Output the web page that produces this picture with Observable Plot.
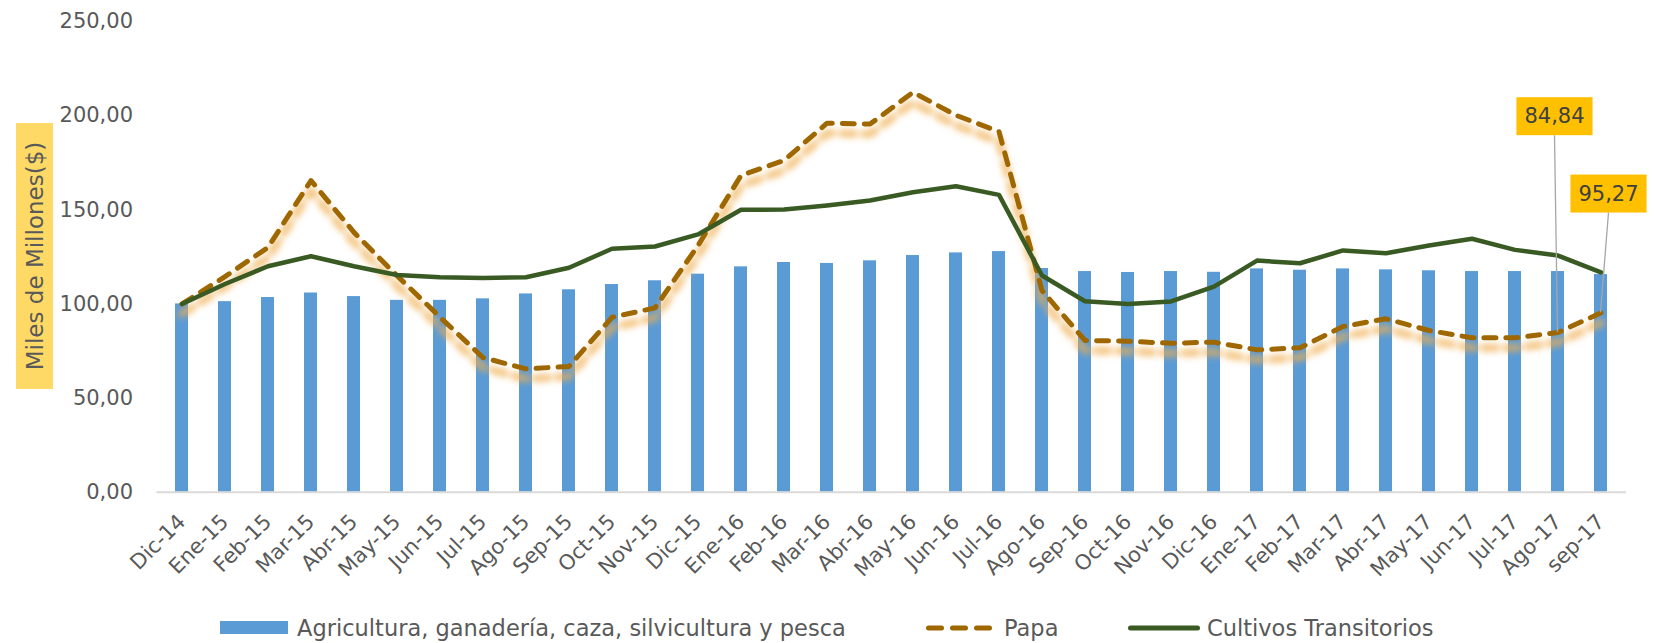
<!DOCTYPE html>
<html>
<head>
<meta charset="utf-8">
<script src="https://cdn.jsdelivr.net/npm/d3@7"></script>
<script src="https://cdn.jsdelivr.net/npm/@observablehq/plot@0.6"></script>
<style>
  body { margin: 0; background: #fff; font-family: "DejaVu Sans", sans-serif; }
  #chart { position: relative; width: 1658px; height: 643px; overflow: hidden; }
  .papa-glow { filter: blur(3px); }
  .legend-item { position: absolute; top: 612px; height: 31px; display: flex; align-items: center; font-size: 22.5px; color: #595959; white-space: nowrap; }
</style>
</head>
<body>
<div id="chart"></div>
<script>
const months = ["Dic-14","Ene-15","Feb-15","Mar-15","Abr-15","May-15","Jun-15","Jul-15","Ago-15","Sep-15","Oct-15","Nov-15","Dic-15","Ene-16","Feb-16","Mar-16","Abr-16","May-16","Jun-16","Jul-16","Ago-16","Sep-16","Oct-16","Nov-16","Dic-16","Ene-17","Feb-17","Mar-17","Abr-17","May-17","Jun-17","Jul-17","Ago-17","sep-17"];
const agricultura = [100.0,101.2,103.4,105.8,103.9,101.9,101.9,102.7,105.3,107.5,110.3,112.3,115.8,119.7,122.0,121.5,122.9,125.7,127.1,127.8,118.8,117.2,116.7,117.2,116.8,118.6,117.9,118.6,118.1,117.6,117.2,117.2,117.2,115.6];
const papa = [100.0,114.5,130.0,165.5,138.0,115.0,93.0,71.5,65.5,66.8,92.9,97.9,131.0,168.2,176.2,196.0,195.5,212.4,200.2,191.5,107.1,80.6,80.2,79.1,79.7,75.6,76.7,88.0,92.1,85.9,82.0,82.0,84.84,95.27];
const cultivos = [100.0,110.6,120.0,125.3,120.0,115.4,114.2,113.8,114.2,119.2,129.3,130.5,136.9,150.0,150.1,152.3,154.9,159.3,162.5,157.9,115.1,101.4,100.0,101.3,109.2,123.0,121.6,128.4,126.9,131.0,134.6,128.7,125.7,116.8];
const yTicks = [0, 50, 100, 150, 200, 250];
const annotMonths = ["Ago-17", "sep-17"];
const annotLabels = ["84,84", "95,27"];
const seriesNames = ["Agricultura, ganadería, caza, silvicultura y pesca", "Papa", "Cultivos Transitorios"];
const yTitle = "Miles de Millones($)";

const data = months.map((m, i) => ({month: m, agro: agricultura[i], papa: papa[i], cult: cultivos[i]}));
const annots = annotMonths.map((m, i) => ({month: m, value: papa[months.indexOf(m)], label: annotLabels[i]}));
const annotOffsets = [{dx: -3.5, dy: -216}, {dx: 7.5, dy: -119}];

const fmt = d => d.toFixed(2).replace(".", ",");
const BLUE = "#5B9BD5", BROWN = "#9E6700", GREEN = "#3A5A24";

const plot = Plot.plot({
  width: 1658,
  height: 600,
  marginLeft: 156.5,
  marginRight: 32,
  marginTop: 21,
  marginBottom: 108.3,
  style: {fontFamily: '"DejaVu Sans", sans-serif', fontSize: "21px", color: "#595959", background: "white", overflow: "visible"},
  x: {domain: months, paddingInner: 0.69, paddingOuter: 0.345, label: null},
  y: {domain: [0, 250], label: null},
  marks: [
    Plot.barY(data, {x: "month", y: "agro", fill: BLUE}),
    Plot.ruleY([0], {stroke: "#D9D9D9", strokeWidth: 2}),
    Plot.line(data, {x: "month", y: "papa", stroke: "#EFAE4E", strokeOpacity: 0.7, strokeWidth: 8, strokeDasharray: "12 10", strokeLinecap: "round", dy: 10, className: "papa-glow"}),
    Plot.line(data, {x: "month", y: "papa", stroke: BROWN, strokeWidth: 5, strokeDasharray: "12 10", strokeLinecap: "round", strokeLinejoin: "round"}),
    Plot.line(data, {x: "month", y: "cult", stroke: GREEN, strokeWidth: 4.5, strokeLinejoin: "round"}),
    Plot.axisY({ticks: yTicks, tickFormat: fmt, tickSize: 0, tickPadding: 24, label: null}),
    Plot.axisX({tickSize: 0, tickRotate: -45, tickPadding: 26, label: null}),
    ...annots.map((a, i) => Plot.text([a], {x: "month", y: "value", text: "label", dx: annotOffsets[i].dx, dy: annotOffsets[i].dy, fill: "#404040", fontSize: 21, className: "annot"}))
  ]
});

const chart = document.getElementById("chart");
chart.appendChild(plot);

const svg = d3.select(plot);
const sx = plot.scale("x"), sy = plot.scale("y");
const svgRect = plot.getBoundingClientRect();

// annotation boxes
const boxes = [];
svg.selectAll("g.annot text").each(function() {
  const t = this;
  const bb = t.getBBox();
  const padX = 8, padY = 7;
  const r = d3.select(t.parentNode).insert("rect", "text")
    .attr("x", bb.x - padX).attr("y", bb.y - padY)
    .attr("width", bb.width + 2 * padX).attr("height", bb.height + 2 * padY)
    .attr("fill", "#FFC000");
  if (t.getAttribute("transform")) r.attr("transform", t.getAttribute("transform"));
  boxes.push(r.node());
});

// leader lines (drawn beneath the boxes)
const leaderG = svg.append("g").attr("class", "leaders");
annots.forEach((a, i) => {
  const px = sx.apply(a.month) + sx.bandwidth / 2;
  const py = sy.apply(a.value);
  const br = boxes[i].getBoundingClientRect();
  leaderG.append("line")
    .attr("x1", br.left - svgRect.left + br.width / 2).attr("y1", br.bottom - svgRect.top)
    .attr("x2", px).attr("y2", py)
    .attr("stroke", "#A6A6A6").attr("stroke-width", 1.3);
});
plot.insertBefore(leaderG.node(), svg.select("g.annot").node());

// y-axis title
const tg = svg.append("g");
tg.append("rect").attr("x", 16).attr("y", 123).attr("width", 37).attr("height", 266).attr("fill", "#FFD966");
tg.append("text").attr("transform", "translate(35,256) rotate(-90)")
  .attr("text-anchor", "middle").attr("dominant-baseline", "central")
  .attr("font-size", 23).attr("fill", "#595959").text(yTitle);

// legend
function item(left, swatchSvg, label, gap) {
  const div = document.createElement("div");
  div.className = "legend-item";
  div.style.left = left + "px";
  div.innerHTML = swatchSvg + `<span style="margin-left:${gap}px">${label}</span>`;
  chart.appendChild(div);
}
item(220, `<svg width="68" height="13"><rect width="68" height="13" fill="${BLUE}"/></svg>`, seriesNames[0], 9);
item(926, `<svg width="66" height="10"><line x1="2.5" x2="63.5" y1="5" y2="5" stroke="${BROWN}" stroke-width="5" stroke-dasharray="13 11" stroke-linecap="round"/></svg>`, seriesNames[1], 12);
item(1128, `<svg width="72" height="10"><line x1="2.5" x2="69.5" y1="5" y2="5" stroke="${GREEN}" stroke-width="5" stroke-linecap="round"/></svg>`, seriesNames[2], 7);
</script>
</body>
</html>
